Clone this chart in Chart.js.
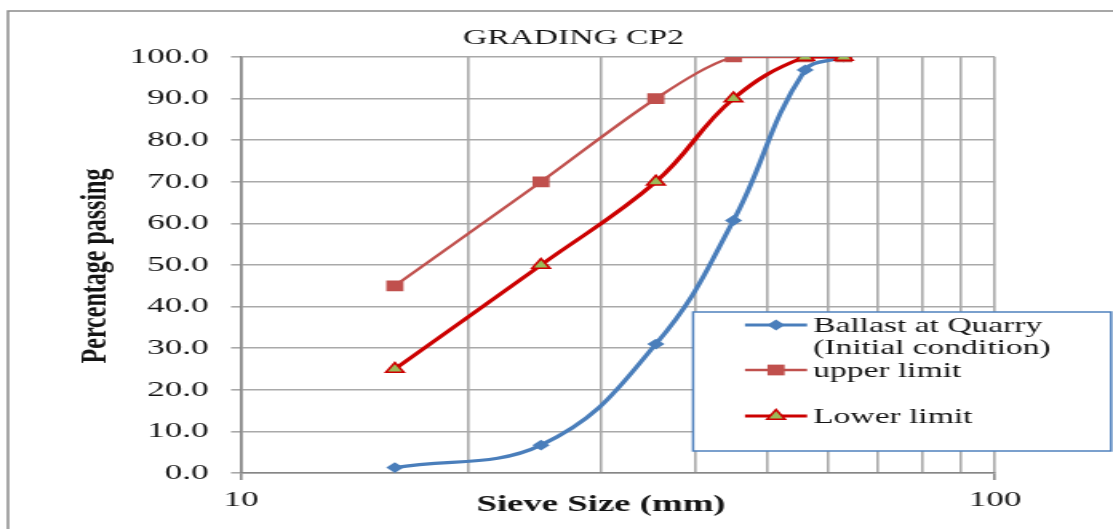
<!DOCTYPE html>
<html>
<head>
<meta charset="utf-8">
<title>Grading CP2</title>
<script src="https://cdn.jsdelivr.net/npm/chart.js"></script>
<style>
  html, body { margin: 0; padding: 0; background: #fff; overflow: hidden; }
  /* chart is laid out narrow and widened horizontally */
  #wrap { position: relative; width: 696px; height: 529px; transform: scaleX(1.5991); transform-origin: 0 0; }
</style>
</head>
<body>
<div id="wrap"><canvas id="gradingChart"></canvas></div>
<script>
// sieve sizes (mm) and percentage passing
const sieveSizes = [16, 25, 35.5, 45, 56, 63];
const ballastPassing = [1.3, 6.7, 31.0, 60.7, 96.9, 100];
const upperLimit = [45, 70, 90, 100, 100, 100];
const lowerLimit = [25, 50, 70, 90, 100, 100];
const seriesNames = ['Ballast at Quarry\n(Initial condition)', 'upper limit', 'Lower limit'];
const gridSizes = [10, 20, 30, 40, 50, 60, 70, 80, 90, 100];
const labelledSizes = [10, 100];

const SERIF = '"Liberation Serif", "Times New Roman", serif';
const GRID = '#a9a9a9';
const AXIS = '#868686';

function points(values) {
  return sieveSizes.map((s, i) => ({ x: s, y: values[i] }));
}

function marker(ctx, ds, x, y) {
  const r = ds.pointRadius;
  ctx.save();
  ctx.fillStyle = ds.pointBackgroundColor;
  ctx.strokeStyle = ds.pointBorderColor;
  ctx.lineWidth = ds.pointBorderWidth;
  ctx.beginPath();
  if (ds.pointStyle === 'rectRot') {
    ctx.moveTo(x - r, y); ctx.lineTo(x, y - r); ctx.lineTo(x + r, y); ctx.lineTo(x, y + r);
  } else if (ds.pointStyle === 'rect') {
    const h = r * Math.SQRT1_2;
    ctx.rect(x - h, y - h, 2 * h, 2 * h);
  } else {
    ctx.moveTo(x, y - r);
    ctx.lineTo(x + Math.sin(Math.PI * 2 / 3) * r, y - Math.cos(Math.PI * 2 / 3) * r);
    ctx.lineTo(x + Math.sin(Math.PI * 4 / 3) * r, y - Math.cos(Math.PI * 4 / 3) * r);
  }
  ctx.closePath();
  ctx.fill();
  if (ds.pointBorderWidth) ctx.stroke();
  ctx.restore();
}

// frame, titles and the boxed legend
const decor = {
  id: 'decor',
  beforeDraw(chart) {
    const ctx = chart.ctx;
    ctx.save();
    ctx.strokeStyle = '#8a8a8a';
    ctx.lineWidth = 1.5;
    ctx.strokeRect(5, 11, 900, 700);
    ctx.restore();
  },
  afterDraw(chart) {
    const ctx = chart.ctx;
    ctx.save();
    ctx.fillStyle = '#141414';
    ctx.textAlign = 'center';
    ctx.textBaseline = 'middle';
    ctx.font = '21px ' + SERIF;
    ctx.fillText('GRADING CP2', 358.6, 38);
    ctx.font = 'bold 23px ' + SERIF;
    ctx.fillText('Sieve Size (mm)', 375.8, 505);
    ctx.translate(59.4, 266);
    ctx.rotate(-Math.PI / 2);
    ctx.font = 'bold 24px ' + SERIF;
    ctx.fillText('Percentage passing', 0, 0);
    ctx.restore();

    // legend
    const box = { l: 433.4, t: 312, r: 694.8, b: 451 };
    ctx.save();
    ctx.fillStyle = '#fff';
    ctx.fillRect(box.l, box.t, box.r - box.l, box.b - box.t);
    ctx.strokeStyle = '#4f81bd';
    ctx.lineWidth = 1.5;
    ctx.strokeRect(box.l, box.t, box.r - box.l, box.b - box.t);
    const rows = [[325, 347], [370], [416]];
    chart.data.datasets.forEach((ds, i) => {
      const y = rows[i][0];
      ctx.strokeStyle = ds.borderColor;
      ctx.lineWidth = ds.borderWidth;
      ctx.beginPath();
      ctx.moveTo(465.9, y);
      ctx.lineTo(504.7, y);
      ctx.stroke();
      marker(ctx, ds, 485.3, y);
      ctx.fillStyle = '#141414';
      ctx.font = '21px ' + SERIF;
      ctx.textAlign = 'left';
      ctx.textBaseline = 'middle';
      seriesNames[i].split('\n').forEach((line, k) => {
        ctx.fillText(line, 508.4, rows[i][k] + 1);
      });
    });
    ctx.restore();
  }
};

new Chart(document.getElementById('gradingChart'), {
  type: 'line',
  data: {
    datasets: [{
      label: seriesNames[0],
      data: points(ballastPassing),
      borderColor: '#4a7ebb',
      borderWidth: 3.2,
      tension: 0.4,
      pointStyle: 'rectRot',
      pointRadius: 5.4,
      pointBackgroundColor: '#4a7ebb',
      pointBorderColor: '#4a7ebb',
      pointBorderWidth: 0,
      order: 3
    }, {
      label: seriesNames[1],
      data: points(upperLimit),
      borderColor: '#c0504d',
      borderWidth: 2.3,
      tension: 0.3,
      pointStyle: 'rect',
      pointRadius: 7.6,
      pointBackgroundColor: '#c0504d',
      pointBorderColor: '#c0504d',
      pointBorderWidth: 0,
      order: 2
    }, {
      label: seriesNames[2],
      data: points(lowerLimit),
      borderColor: '#cc0000',
      borderWidth: 3.2,
      tension: 0.4,
      pointStyle: 'triangle',
      pointRadius: 6.4,
      pointBackgroundColor: '#9bbb59',
      pointBorderColor: '#cc0000',
      pointBorderWidth: 1.6,
      order: 1
    }]
  },
  options: {
    responsive: true,
    maintainAspectRatio: false,
    animation: false,
    layout: { padding: { top: 57, right: 73.8, bottom: 0, left: 0 } },
    plugins: {
      legend: { display: false },
      tooltip: { enabled: false }
    },
    scales: {
      x: {
        type: 'logarithmic',
        min: 10,
        max: 100,
        afterFit: (s) => { s.height = 56; },
        afterBuildTicks: (s) => { s.ticks = gridSizes.map((v) => ({ value: v })); },
        grid: {
          color: GRID,
          lineWidth: 1.6,
          tickLength: 7,
          tickColor: (c) => (c.tick && labelledSizes.includes(c.tick.value)) ? AXIS : 'rgba(0,0,0,0)'
        },
        border: { color: AXIS, width: 1.6 },
        ticks: {
          autoSkip: false,
          maxRotation: 0,
          padding: 7,
          color: '#141414',
          font: { family: SERIF, size: 22 },
          callback: (v) => labelledSizes.includes(v) ? String(v) : ''
        }
      },
      y: {
        min: 0,
        max: 100,
        afterFit: (s) => { s.width = 150.7; },
        grid: { color: GRID, lineWidth: 1.6, tickLength: 6.25 },
        border: { color: AXIS, width: 1.6 },
        ticks: {
          stepSize: 10,
          padding: 14,
          color: '#141414',
          font: { family: SERIF, size: 22 },
          callback: (v) => v.toFixed(1)
        }
      }
    }
  },
  plugins: [decor]
});
</script>
</body>
</html>
